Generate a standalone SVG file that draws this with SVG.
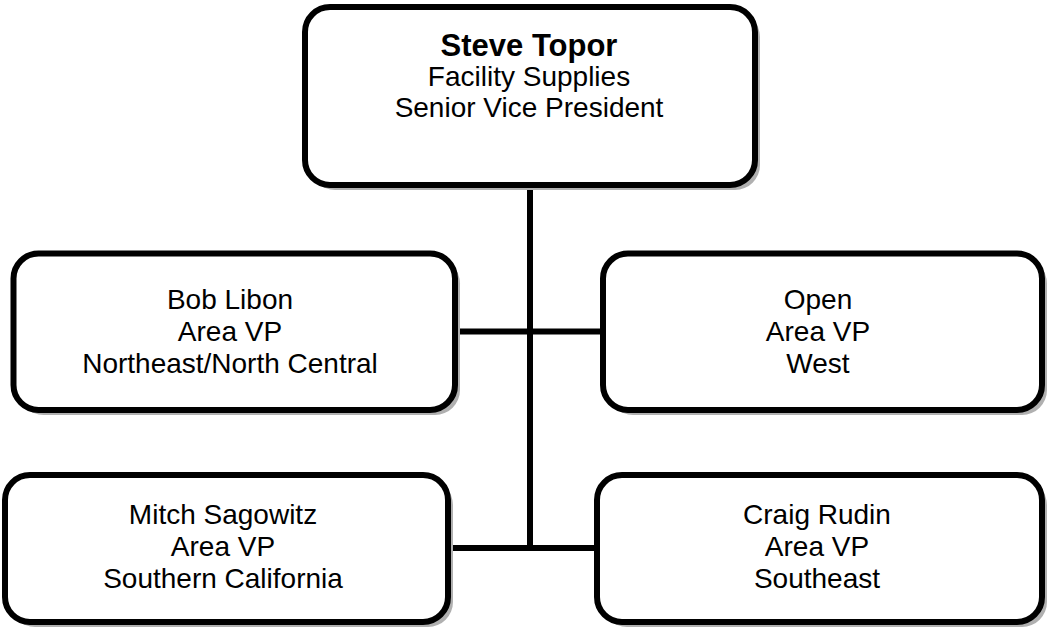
<svg xmlns="http://www.w3.org/2000/svg" width="1050" height="631" viewBox="0 0 1050 631">
<style>
.box{fill:#fff;stroke:#000;stroke-width:6}
.sh{fill:#b0b0b0}
.t{font-family:"Liberation Sans",Arial,sans-serif;font-size:28px;fill:#000;text-anchor:middle}
.b{font-weight:bold;font-size:31px}
.c{stroke:#000;stroke-width:6;fill:none}
</style>
<rect width="1050" height="631" fill="#fff"/>
<g id="connectors">
<line class="c" x1="530" y1="185" x2="530" y2="551"/>
<line class="c" x1="455" y1="331.5" x2="603" y2="331.5"/>
<line class="c" x1="448" y1="548" x2="597" y2="548"/>
</g>
<g id="steve">
<rect class="sh" x="310" y="12" width="450" height="178" rx="25"/>
<rect class="box" x="305" y="7" width="450" height="178" rx="25"/>
<text class="t b" x="529" y="56">Steve Topor</text>
<text class="t" x="529" y="86">Facility Supplies</text>
<text class="t" x="529" y="117">Senior Vice President</text>
</g>
<g id="bob">
<rect class="sh" x="18.5" y="258.5" width="441.5" height="156.5" rx="25"/>
<rect class="box" x="13.5" y="253.5" width="441.5" height="156.5" rx="25"/>
<text class="t" x="230" y="308.5">Bob Libon</text>
<text class="t" x="230" y="340.5">Area VP</text>
<text class="t" x="230" y="372.5">Northeast/North Central</text>
</g>
<g id="open">
<rect class="sh" x="608" y="258.5" width="439" height="156.5" rx="25"/>
<rect class="box" x="603" y="253.5" width="439" height="156.5" rx="25"/>
<text class="t" x="818" y="308.5">Open</text>
<text class="t" x="818" y="340.5">Area VP</text>
<text class="t" x="818" y="372.5">West</text>
</g>
<g id="mitch">
<rect class="sh" x="10" y="480" width="443" height="147" rx="25"/>
<rect class="box" x="5" y="475" width="443" height="147" rx="25"/>
<text class="t" x="223" y="524">Mitch Sagowitz</text>
<text class="t" x="223" y="556">Area VP</text>
<text class="t" x="223" y="588">Southern California</text>
</g>
<g id="craig">
<rect class="sh" x="602" y="480" width="445" height="147" rx="25"/>
<rect class="box" x="597" y="475" width="445" height="147" rx="25"/>
<text class="t" x="817" y="524">Craig Rudin</text>
<text class="t" x="817" y="556">Area VP</text>
<text class="t" x="817" y="588">Southeast</text>
</g>
</svg>
